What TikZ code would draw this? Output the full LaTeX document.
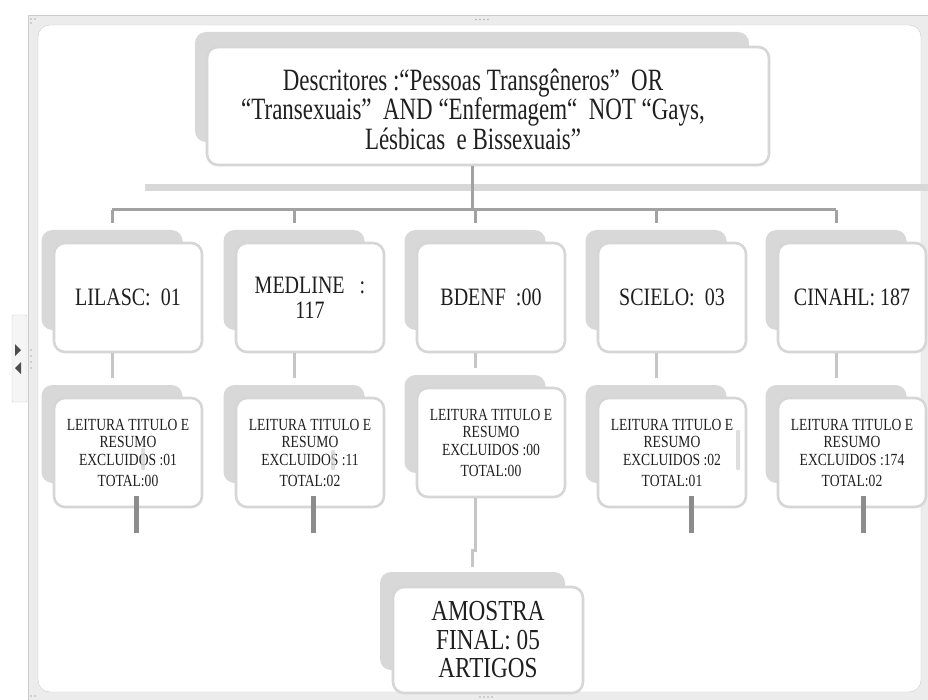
\documentclass[tikz,border=0pt]{standalone}
\usepackage{fontspec}
\setmainfont[FakeStretch=0.8]{Liberation Serif}
\newfontfamily\narrowserif[FakeStretch=0.74]{Liberation Serif}
\usetikzlibrary{positioning,calc}
\definecolor{boxgrey}{RGB}{216,216,216}
\definecolor{boxedge}{RGB}{214,214,214}
\definecolor{linkgrey}{RGB}{162,162,162}
\definecolor{linklight}{RGB}{198,198,198}
\definecolor{stubgrey}{RGB}{140,140,140}
\definecolor{framegrey}{RGB}{236,236,236}
\definecolor{frameline}{RGB}{204,204,204}
\colorlet{inkblack}{black!88}

\begin{document}
\begin{tikzpicture}[x=1pt,y=-1pt,
    backbox/.style={fill=boxgrey,rounded corners=11pt,inner sep=0pt},
    frontbox/.style={fill=white,draw=boxedge,line width=2.6pt,rounded corners=11pt,inner sep=0pt,align=center,text=inkblack},
    dbfont/.style={font=\fontsize{25}{25}\selectfont},
    readfont/.style={font=\fontsize{17}{17}\selectfont},
    link1/.style={draw=linkgrey,line width=3pt},
    link2/.style={draw=linklight,line width=3pt},
    stubline/.style={draw=stubgrey,line width=5pt},
    ghostbar/.style={draw=boxgrey,line width=7pt}]
  \useasboundingbox (0,0) rectangle (928,700);
  \draw[frameline,fill=framegrey] (28,15) rectangle (940,712);
  \draw[frameline,fill=white,rounded corners=12pt] (38,25) rectangle (921,692);
  \foreach \hx in {476,480,484,488} {
    \fill[black!30] (\hx,19.5) circle (0.9);
    \fill[black!30] (\hx+4,697) circle (0.9);
  }
  \fill[black!30] (31,19) circle (0.9) (35,19) circle (0.9) (31,23) circle (0.9);
  \fill[black!30] (31,696) circle (0.9) (35,696) circle (0.9);
  \draw[frameline,fill=black!4,rounded corners=1pt] (12,315) rectangle (27,402);
  \fill[black!70] (15,344) -- (21,350) -- (15,356) -- cycle;
  \fill[black!70] (21,362) -- (15,368) -- (21,374) -- cycle;
  \foreach \dy in {350,356,362,368} \fill[black!30] (31,\dy) circle (0.9);

  \node[backbox,minimum width=554pt,minimum height=110pt] (top-bg) at (472,87) {};
  \node[frontbox,minimum width=562pt,minimum height=118pt] (top) at (488,106) {};
  \node[text=inkblack,align=center,font=\narrowserif\fontsize{31}{28}\selectfont] (top-txt) at (473,109)
    {Descritores :“Pessoas Transgêneros”~~OR\\“Transexuais”~~AND “Enfermagem“~~NOT “Gays,\\Lésbicas~~e Bissexuais”};
  \draw[ghostbar] (145,188) -- (932,188);
  \coordinate (bus) at (472,210);

  \foreach \gx/\sy/\nm/\db/\exc/\tot/\sx in {
      112/0/lil/{LILASC:~~01}/01/00/136,
      294/0/med/{MEDLINE~~~:\\117}/11/02/313,
      475/-10/bde/{BDENF~~:00}/00/00/0,
      656/0/sci/{SCIELO:~~03}/02/01/691,
      836/0/cin/{CINAHL:~187}/174/02/863} {
    \pgfmathsetmacro{\ry}{452.5+\sy}
    \node[backbox,minimum width=141pt,minimum height=100pt] (\nm-bg) at (\gx,280) {};
    \node[frontbox,dbfont,minimum width=148pt,minimum height=109pt] (\nm) at (\gx+16,297.5) {\db};
    \node[backbox,minimum width=141pt,minimum height=98pt] (\nm-rbg) at (\gx,\ry-18.5) {};
    \node[frontbox,readfont,minimum width=148pt,minimum height=109pt] (\nm-r) at (\gx+16,\ry)
      {LEITURA TITULO E\\RESUMO\\[1pt]EXCLUIDOS :\exc\\[4pt]TOTAL:\tot};
    \draw[link1,shorten >=7pt] (\nm-bg.center |- bus) -- (\nm-bg.north);
    \draw[link2,shorten >=7pt] (\nm-bg.center |- \nm.south) -- (\nm-bg.center |- \nm-rbg.north);
    \ifnum\sx>0
      \coordinate (\nm-stub) at (\sx,533);
      \draw[stubline] (\nm-stub |- \nm-r.south) ++(0,-12) -- (\nm-stub);
    \fi
  }
  \draw[link1] (top-bg.center |- top.south) -- (bus);
  \draw[link1] (lil-bg.center |- bus) -- (cin-bg.center |- bus);

  \fill[black!18,opacity=0.7,rounded corners=1pt] (141,448) rectangle (145,470);
  \fill[black!18,opacity=0.7,rounded corners=1pt] (331,450) rectangle (335,470);
  \fill[black!18,opacity=0.7,rounded corners=1pt] (736,430) rectangle (740,470);

  \node[backbox,minimum width=185pt,minimum height=98pt] (fin-bg) at (472.5,621) {};
  \node[frontbox,minimum width=190pt,minimum height=106pt,font=\fontsize{29}{28.5}\selectfont] (fin) at (488,640)
    {AMOSTRA\\FINAL:~05\\ARTIGOS};
  \draw[link2] (bde-rbg.center |- bde-r.south) -- ++(0,52) -| ([yshift=5pt]fin-bg.north);
\end{tikzpicture}
\end{document}
